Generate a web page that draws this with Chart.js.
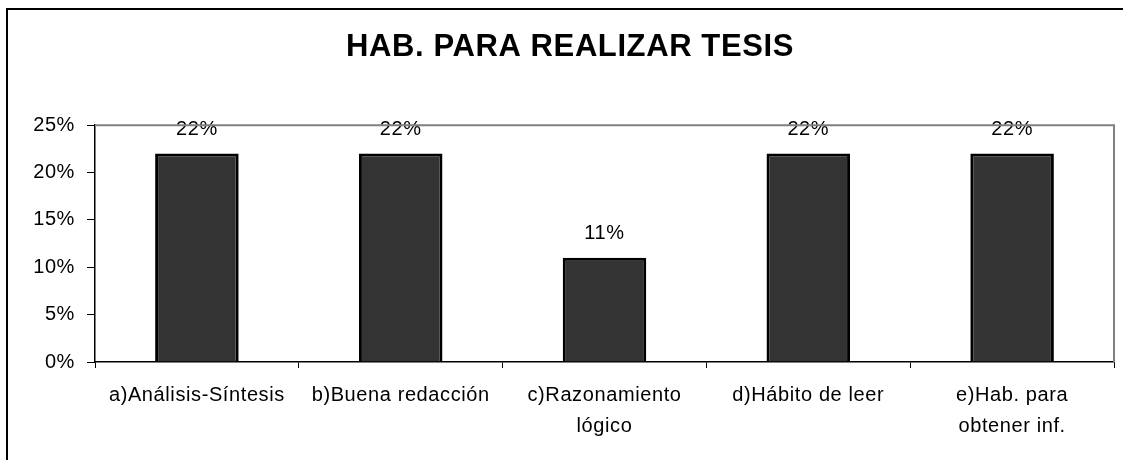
<!DOCTYPE html>
<html>
<head>
<meta charset="utf-8">
<script src="https://cdn.jsdelivr.net/npm/chart.js@4"></script>
<style>
  html, body { margin: 0; padding: 0; background: #fff; overflow: hidden; }
  #frame { position: absolute; left: 6px; top: 8px; width: 1200px; height: 500px;
           border-left: 2px solid #000; border-top: 2px solid #000; }
  #wrap { position: absolute; left: 0; top: 0; width: 1123px; height: 460px; }
</style>
</head>
<body>
<div id="frame"></div>
<div id="wrap"><canvas id="habChart"></canvas></div>
<script>
  const chartTitle = "HAB. PARA REALIZAR TESIS";
  const categories = [
    "a)Análisis-Síntesis",
    "b)Buena redacción",
    ["c)Razonamiento", "lógico"],
    "d)Hábito de leer",
    ["e)Hab. para", "obtener inf."]
  ];
  const percentValues = [22, 22, 11, 22, 22];
  const yMax = 25;
  const yStep = 5;

  const fontFamily = "'Liberation Sans', Arial, sans-serif";

  // letter spacing + plot frame (gray top/right edges)
  const framePlugin = {
    id: 'framePlugin',
    beforeDraw(chart) {
      chart.ctx.letterSpacing = '0.6px';
    },
    afterDraw(chart) {
      const {ctx, chartArea: a} = chart;
      ctx.save();
      ctx.strokeStyle = '#808080';
      ctx.lineWidth = 2;
      ctx.beginPath();
      ctx.moveTo(a.left, a.top);
      ctx.lineTo(a.right, a.top);
      ctx.lineTo(a.right, a.bottom);
      ctx.stroke();
      ctx.restore();
    }
  };

  // value labels above bars
  const valueLabels = {
    id: 'valueLabels',
    afterDatasetsDraw(chart) {
      const ctx = chart.ctx;
      const meta = chart.getDatasetMeta(0);
      ctx.save();
      ctx.font = "20px " + fontFamily;
      ctx.fillStyle = '#000';
      ctx.textAlign = 'center';
      ctx.textBaseline = 'alphabetic';
      meta.data.forEach((bar, i) => {
        ctx.fillText(percentValues[i] + '%', bar.x, bar.y - 19);
      });
      ctx.restore();
    }
  };

  new Chart(document.getElementById('habChart').getContext('2d'), {
    type: 'bar',
    data: {
      labels: categories,
      datasets: [{
        data: percentValues,
        backgroundColor: '#333333',
        borderColor: '#000000',
        borderWidth: 3,
        categoryPercentage: 1.0,
        barPercentage: 0.41
      }]
    },
    options: {
      responsive: true,
      maintainAspectRatio: false,
      animation: false,
      layout: { padding: { left: 26, right: 9, top: 0, bottom: 0 } },
      plugins: {
        legend: { display: false },
        tooltip: { enabled: false },
        title: {
          display: true,
          text: chartTitle,
          color: '#000',
          font: { family: fontFamily, size: 31, weight: 'bold', lineHeight: 1.2 },
          padding: { top: 29, bottom: 59 }
        }
      },
      scales: {
        y: {
          min: 0,
          max: yMax,
          afterFit: s => { s.width = 69; },
          ticks: {
            stepSize: yStep,
            color: '#000',
            padding: 12,
            font: { family: fontFamily, size: 20 },
            callback: v => v + '%'
          },
          grid: { drawOnChartArea: false, tickLength: 8, color: '#000' },
          border: { color: '#000', width: 1.5 }
        },
        x: {
          afterFit: s => { s.height = 98; },
          ticks: {
            color: '#000',
            padding: 12,
            maxRotation: 0,
            autoSkip: false,
            font: { family: fontFamily, size: 20, lineHeight: 1.55 }
          },
          grid: { drawOnChartArea: false, offset: true, tickLength: 6, color: '#000' },
          border: { color: '#000', width: 1.5 }
        }
      }
    },
    plugins: [framePlugin, valueLabels]
  });
</script>
</body>
</html>
